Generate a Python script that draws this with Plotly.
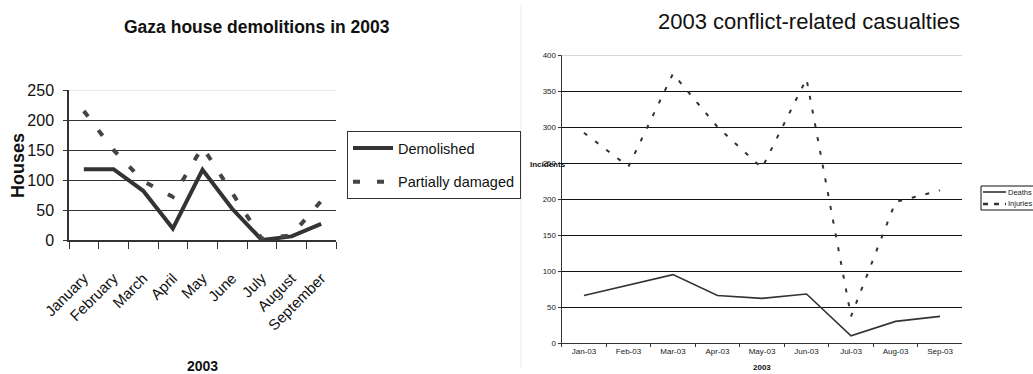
import plotly.graph_objects as go

# Gaza house demolitions, 2003
months = ["January", "February", "March", "April", "May", "June", "July", "August", "September"]
demolished = [118, 118, 82, 19, 117, 52, 0, 6, 27]
partially_damaged = [215, 150, 98, 72, 155, 78, 2, 8, 65]

# Conflict-related casualties, 2003
month_labels = ["Jan-03", "Feb-03", "Mar-03", "Apr-03", "May-03", "Jun-03", "Jul-03", "Aug-03", "Sep-03"]
deaths = [66, 80, 95, 66, 62, 68, 10, 30, 37]
injuries = [292, 245, 374, 300, 243, 367, 37, 196, 212]

W, H = 1033, 374
SANS = "Liberation Sans, Arial, sans-serif"
INK = "#333333"

DEATHS_LINE = dict(color=INK, width=1.6)
INJURIES_LINE = dict(color=INK, width=2, dash="4px,10px")


def px_x(x):
    return x / W


def px_y(y):
    return 1 - y / H


fig = go.Figure()

fig.add_trace(go.Scatter(
    x=months, y=demolished, name="Demolished", mode="lines",
    line=dict(color=INK, width=4), xaxis="x", yaxis="y",
    legendgroup="a",
))
fig.add_trace(go.Scatter(
    x=months, y=partially_damaged, name="Partially damaged", mode="lines",
    line=dict(color="#444444", width=4, dash="7px,17px"), xaxis="x", yaxis="y",
    legendgroup="b",
))
fig.add_trace(go.Scatter(
    x=month_labels, y=deaths, name="Deaths", mode="lines",
    line=DEATHS_LINE, xaxis="x2", yaxis="y2", showlegend=False,
))
fig.add_trace(go.Scatter(
    x=month_labels, y=injuries, name="Injuries", mode="lines",
    line=INJURIES_LINE, xaxis="x2", yaxis="y2", showlegend=False,
))

fig.update_layout(
    width=W, height=H,
    margin=dict(l=0, r=0, t=0, b=0, autoexpand=False),
    paper_bgcolor="white", plot_bgcolor="white",
    xaxis=dict(
        domain=[px_x(69), px_x(336)], anchor="y", type="category",
        range=[-0.5, 8.5], tickson="boundaries", ticks="outside", ticklen=7,
        tickcolor=INK, showline=True, linecolor=INK, linewidth=1.5,
        showgrid=False, tickangle=-45, ticklabelstandoff=22,
        tickfont=dict(family=SANS, size=15, color="#111"),
    ),
    yaxis=dict(
        domain=[px_y(240), px_y(90)], anchor="x", range=[0, 250],
        tickvals=[0, 50, 100, 150, 200, 250], ticks="outside", ticklen=4,
        tickcolor=INK, showline=True, linecolor=INK, linewidth=1.5,
        showgrid=True, gridcolor=INK, gridwidth=1.2, zeroline=False,
        ticklabelstandoff=6,
        tickfont=dict(family=SANS, size=16, color="#111"),
    ),
    xaxis2=dict(
        domain=[px_x(561.7), px_x(962.3)], anchor="y2", type="category",
        range=[-0.5, 8.5], tickson="boundaries", ticks="outside", ticklen=3,
        tickcolor=INK, showline=True, linecolor=INK, linewidth=1.2,
        showgrid=False, tickangle=0,
        tickfont=dict(family=SANS, size=8, color="#222"),
    ),
    yaxis2=dict(
        domain=[px_y(343), px_y(55)], anchor="x2", range=[0, 400],
        tickvals=[0, 50, 100, 150, 200, 250, 300, 350, 400], ticks="outside",
        ticklen=3, tickcolor=INK, showline=True, linecolor=INK, linewidth=1.2,
        showgrid=True, gridcolor="#111", gridwidth=1.2, zeroline=False,
        tickfont=dict(family=SANS, size=8, color="#222"),
    ),
    legend=dict(
        x=px_x(347), y=px_y(131), xanchor="left", yanchor="top",
        bordercolor=INK, borderwidth=1, bgcolor="white",
        font=dict(family=SANS, size=14.5, color="#111"),
        itemwidth=40, tracegroupgap=12,
    ),
    showlegend=True,
)

# light top border on each plot area
fig.add_shape(type="line", xref="x domain", yref="y", x0=0, x1=1, y0=250, y1=250,
              line=dict(color="#e2e2e2", width=1.5), layer="above")
fig.add_shape(type="line", xref="x2 domain", yref="y2", x0=0, x1=1, y0=400, y1=400,
              line=dict(color="#d9d9d9", width=2), layer="above")
# faint divider between the two panels
fig.add_shape(type="line", xref="paper", yref="paper", x0=px_x(521), x1=px_x(521),
              y0=px_y(368), y1=px_y(5), line=dict(color="#ebebeb", width=1))

# compact key for the casualties panel (runs off the right edge)
fig.add_shape(type="rect", xref="paper", yref="paper",
              x0=px_x(981), x1=px_x(1045), y0=px_y(210), y1=px_y(186),
              line=dict(color="#111", width=1), fillcolor="white")
fig.add_shape(type="line", xref="paper", yref="paper",
              x0=px_x(983), x1=px_x(1006), y0=px_y(192), y1=px_y(192), line=DEATHS_LINE)
fig.add_shape(type="line", xref="paper", yref="paper",
              x0=px_x(983), x1=px_x(1006), y0=px_y(204), y1=px_y(204),
              line=dict(color=INK, width=2.5, dash="5px,6px"))

annotations = [
    dict(text="<b>Gaza house demolitions in 2003</b>", x=px_x(257), y=px_y(27),
         font=dict(family=SANS, size=17.5, color="#111")),
    dict(text="<b>Houses</b>", x=px_x(18), y=px_y(166), textangle=-90,
         font=dict(family=SANS, size=18, color="#111")),
    dict(text="<b>2003</b>", x=px_x(202), y=px_y(366),
         font=dict(family=SANS, size=14, color="#111")),
    dict(text="2003 conflict-related casualties", x=px_x(809), y=px_y(21),
         font=dict(family=SANS, size=22, color="#111")),
    dict(text="<b>Incidents</b>", x=px_x(548), y=px_y(164),
         font=dict(family=SANS, size=8, color="#111")),
    dict(text="<b>2003</b>", x=px_x(762), y=px_y(367),
         font=dict(family=SANS, size=8, color="#111")),
    dict(text="Deaths", x=px_x(1006), y=px_y(192), xanchor="left",
         font=dict(family=SANS, size=7.5, color="#222")),
    dict(text="Injuries", x=px_x(1006), y=px_y(204), xanchor="left",
         font=dict(family=SANS, size=7.5, color="#222")),
]
for a in annotations:
    a.setdefault("xanchor", "center")
    a.update(xref="paper", yref="paper", showarrow=False, yanchor="middle")
    fig.add_annotation(**a)

fig.write_html("out.html")
